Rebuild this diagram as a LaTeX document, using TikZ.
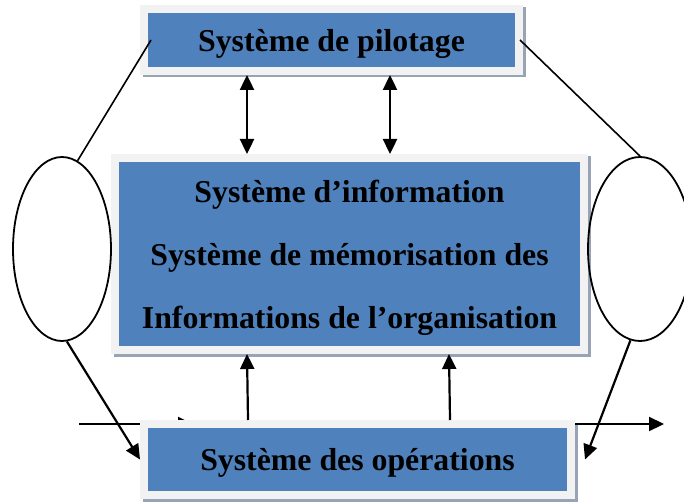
\documentclass[tikz,border=0pt]{standalone}
\usepackage{fontspec}
\setmainfont{Liberation Serif}
\usetikzlibrary{shapes.geometric,arrows.meta,shadows}
\definecolor{bleubloc}{HTML}{4F81BD}
\definecolor{cadre}{HTML}{F2F2F2}
\definecolor{ombre}{HTML}{98A3B6}

\begin{document}
\begin{tikzpicture}[x=1pt,y=-1pt,
    bloc/.style={fill=bleubloc, draw=cadre, line width=8pt, inner sep=0pt, align=center, text depth=0pt,
      font=\bfseries\fontsize{31.8}{63}\selectfont,
      drop shadow={shadow xshift=2.5pt, shadow yshift=-2.5pt, fill=ombre, draw=ombre, line width=8pt, opacity=1}},
    boucle/.style={ellipse, draw, line width=1.8pt, inner sep=0pt},
    fleche/.style={-{Triangle[length=15pt,width=14pt]}, line width=2.2pt},
    fleches/.style={{Triangle[length=15pt,width=14pt]}-{Triangle[length=15pt,width=14pt]}, line width=2.4pt}]
      \useasboundingbox (0,0) rectangle (684,502);
      \coordinate (entree) at (79,424);
      \coordinate (entreebout) at (193,424);
      \coordinate (sortie) at (664,424);
      \draw[fleche] (entree) -- (entreebout);
      \node[bloc, minimum width=375pt, minimum height=62pt] (pilotage) at (331.5,40) {Système de pilotage};
      \node[bloc, minimum width=469pt, minimum height=192pt] (information) at (349.5,254)
        {Système d’information\\Système de mémorisation des\\Informations de l’organisation};
      \node[bloc, minimum width=427pt, minimum height=71pt] (operations) at (357.5,459.5) {Système des opérations};
      \node[boucle, minimum width=98pt, minimum height=184pt] (boucleG) at (62,249) {};
      \node[boucle, minimum width=104pt, minimum height=184pt] (boucleD) at (640,249) {};
      \draw[line width=1.6pt] ([xshift=11pt]pilotage.west) -- (boucleG.80);
      \draw[line width=1.6pt] ([xshift=-3pt]pilotage.east) -- (boucleD.north);
      \draw[fleche] (boucleG.-87) -- (operations.west);
      \draw[fleche] (boucleD.-96) -- ([xshift=10pt]operations.east);
      \draw[fleches] ([xshift=-84.5pt]pilotage.south) -- ([xshift=-102.5pt]information.north);
      \draw[fleches] ([xshift=58.5pt]pilotage.south) -- ([xshift=40.5pt]information.north);
      \draw[fleche] ([xshift=-109.5pt]operations.north) -- ([xshift=-102.5pt]information.south);
      \draw[fleche] ([xshift=92.5pt]operations.north) -- ([xshift=99.5pt]information.south);
      \draw[fleche] (sortie -| operations.east) -- (sortie);
\end{tikzpicture}
\end{document}
